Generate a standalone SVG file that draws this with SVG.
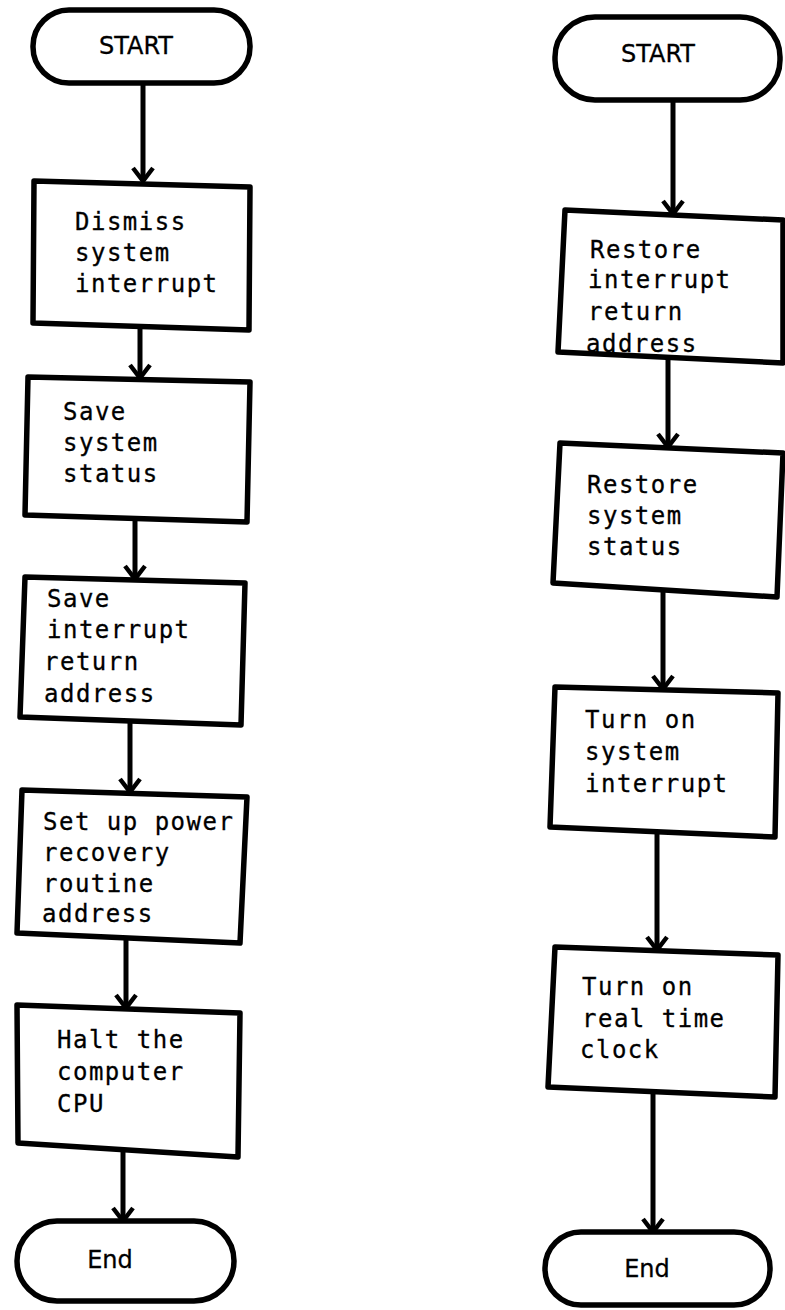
<svg xmlns="http://www.w3.org/2000/svg" width="785" height="1310" viewBox="0 0 785 1310">
  <style>
    .shape { fill: #fff; stroke: #000; stroke-width: 5.5; stroke-linejoin: round; }
    .flow { fill: none; stroke: #000; stroke-width: 5; }
    .lbl { font-family: "DejaVu Sans Mono", "Liberation Mono", monospace; font-size: 24px; letter-spacing: 1.5px; fill: #000; stroke: #000; stroke-width: 0.3; }
    .term { font-family: "DejaVu Sans", "Liberation Sans", sans-serif; font-size: 24px; fill: #000; stroke: #000; stroke-width: 0.3; text-anchor: middle; }
  </style>
  <defs>
    <marker id="vhead" markerUnits="userSpaceOnUse" markerWidth="30" markerHeight="30" viewBox="-15 -15 30 30" refX="0" refY="0" orient="auto">
      <path d="M-13,-10 L0,0 L-13,10" fill="none" stroke="#000" stroke-width="4.5" stroke-linejoin="miter"/>
    </marker>
  </defs>
  <rect width="785" height="1310" fill="#fff"/>

  <!-- connectors -->
  <g id="connectors">
    <line class="flow" x1="143" y1="83" x2="143" y2="181" marker-end="url(#vhead)"/>
    <line class="flow" x1="140" y1="326" x2="140" y2="378" marker-end="url(#vhead)"/>
    <line class="flow" x1="135" y1="519" x2="135" y2="579" marker-end="url(#vhead)"/>
    <line class="flow" x1="130" y1="721" x2="130" y2="792" marker-end="url(#vhead)"/>
    <line class="flow" x1="126" y1="938" x2="126" y2="1008" marker-end="url(#vhead)"/>
    <line class="flow" x1="123" y1="1150" x2="123" y2="1221" marker-end="url(#vhead)"/>

    <line class="flow" x1="673" y1="100" x2="673" y2="214" marker-end="url(#vhead)"/>
    <line class="flow" x1="668" y1="358" x2="668" y2="447" marker-end="url(#vhead)"/>
    <line class="flow" x1="663" y1="590" x2="663" y2="689" marker-end="url(#vhead)"/>
    <line class="flow" x1="657" y1="832" x2="657" y2="950" marker-end="url(#vhead)"/>
    <line class="flow" x1="653" y1="1092" x2="653" y2="1232" marker-end="url(#vhead)"/>
  </g>

  <!-- left flow: power-fail routine -->
  <g id="l-start">
    <rect class="shape" x="33" y="10" width="217" height="73" rx="36" ry="36"/>
    <text class="term" x="136" y="54">START</text>
  </g>
  <g id="l-dismiss">
    <path class="shape" d="M34,181 L250,187 L249,330 L33,323 Z"/>
    <text class="lbl" x="75" y="230">Dismiss</text>
    <text class="lbl" x="75" y="261">system</text>
    <text class="lbl" x="75" y="292">interrupt</text>
  </g>
  <g id="l-save-status">
    <path class="shape" d="M28,377 L250,382 L247,522 L25,515 Z"/>
    <text class="lbl" x="63" y="420">Save</text>
    <text class="lbl" x="63" y="451">system</text>
    <text class="lbl" x="63" y="482">status</text>
  </g>
  <g id="l-save-return">
    <path class="shape" d="M25,577 L245,583 L241,725 L20,717 Z"/>
    <text class="lbl" x="47" y="607">Save</text>
    <text class="lbl" x="47" y="638">interrupt</text>
    <text class="lbl" x="44" y="670">return</text>
    <text class="lbl" x="44" y="702">address</text>
  </g>
  <g id="l-setup">
    <path class="shape" d="M22,790 L247,797 L240,943 L17,933 Z"/>
    <text class="lbl" x="43" y="830">Set up power</text>
    <text class="lbl" x="43" y="861">recovery</text>
    <text class="lbl" x="43" y="892">routine</text>
    <text class="lbl" x="42" y="922">address</text>
  </g>
  <g id="l-halt">
    <path class="shape" d="M17,1005 L240,1013 L238,1157 L18,1143 Z"/>
    <text class="lbl" x="57" y="1048">Halt the</text>
    <text class="lbl" x="57" y="1080">computer</text>
    <text class="lbl" x="57" y="1112">CPU</text>
  </g>
  <g id="l-end">
    <rect class="shape" x="17" y="1221" width="217" height="80" rx="40" ry="40"/>
    <text class="term" x="110" y="1268">End</text>
  </g>

  <!-- right flow: power-restore routine -->
  <g id="r-start">
    <rect class="shape" x="555" y="17" width="225" height="83" rx="40" ry="40"/>
    <text class="term" x="658" y="62">START</text>
  </g>
  <g id="r-restore-return">
    <path class="shape" d="M565,210 L783,220 L783,363 L558,352 Z"/>
    <text class="lbl" x="590" y="258">Restore</text>
    <text class="lbl" x="588" y="288">interrupt</text>
    <text class="lbl" x="588" y="320">return</text>
    <text class="lbl" x="586" y="352">address</text>
  </g>
  <g id="r-restore-status">
    <path class="shape" d="M560,443 L783,453 L777,597 L553,583 Z"/>
    <text class="lbl" x="587" y="493">Restore</text>
    <text class="lbl" x="587" y="524">system</text>
    <text class="lbl" x="587" y="555">status</text>
  </g>
  <g id="r-interrupt-on">
    <path class="shape" d="M555,687 L778,693 L775,837 L550,827 Z"/>
    <text class="lbl" x="585" y="728">Turn on</text>
    <text class="lbl" x="585" y="760">system</text>
    <text class="lbl" x="585" y="792">interrupt</text>
  </g>
  <g id="r-clock-on">
    <path class="shape" d="M555,947 L778,955 L775,1097 L548,1087 Z"/>
    <text class="lbl" x="582" y="995">Turn on</text>
    <text class="lbl" x="582" y="1027">real time</text>
    <text class="lbl" x="580" y="1058">clock</text>
  </g>
  <g id="r-end">
    <rect class="shape" x="545" y="1232" width="225" height="73" rx="36" ry="36"/>
    <text class="term" x="647" y="1277">End</text>
  </g>
</svg>
